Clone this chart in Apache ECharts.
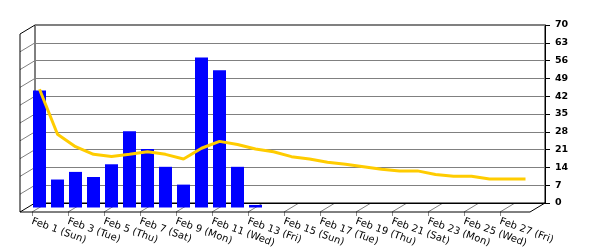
<!DOCTYPE html>
<html><head><meta charset="utf-8">
<script src="https://cdn.jsdelivr.net/npm/echarts@6/dist/echarts.min.js"></script>
<style>html,body{margin:0;padding:0;background:#fff}#c{width:600px;height:250px}</style>
</head><body><div id="c"></div>
<script>
const categories = ['Feb 1 (Sun)','Feb 2 (Mon)','Feb 3 (Tue)','Feb 4 (Wed)','Feb 5 (Thu)','Feb 6 (Fri)','Feb 7 (Sat)',
  'Feb 8 (Sun)','Feb 9 (Mon)','Feb 10 (Tue)','Feb 11 (Wed)','Feb 12 (Thu)','Feb 13 (Fri)','Feb 14 (Sat)',
  'Feb 15 (Sun)','Feb 16 (Mon)','Feb 17 (Tue)','Feb 18 (Wed)','Feb 19 (Thu)','Feb 20 (Fri)','Feb 21 (Sat)',
  'Feb 22 (Sun)','Feb 23 (Mon)','Feb 24 (Tue)','Feb 25 (Wed)','Feb 26 (Thu)','Feb 27 (Fri)','Feb 28 (Sat)'];
const barValues = [46, 11, 14, 12, 17, 30, 23, 16, 9, 59, 54, 16, 1,
  null, null, null, null, null, null, null, null, null, null, null, null, null, null, null];
const lineValues = [46.5, 28.8, 23.9, 20.9, 20.1, 20.9, 21.9, 20.9, 19.1, 23.3, 26, 24.8, 23, 21.9,
  20, 19.1, 17.8, 17, 16, 15, 14.4, 14.4, 13, 12.3, 12.3, 11.2, 11.2, 11.2];
const yMin = 0, yMax = 70, yStep = 7;

// layout (back wall plane); depth offset to front plane
const L = 35, R = 55, T = 25, B = 47, W = 600, H = 250;
const DX = -15, DY = 9;
const CAT_W = 504;

const chart = echarts.init(document.getElementById('c'), null, {renderer: 'canvas'});
const hidden = {show: false};
const yHidden = (gi) => ({type: 'value', gridIndex: gi, min: yMin, max: yMax, interval: yStep, show: false});
const xHidden = (gi) => ({type: 'category', gridIndex: gi, data: categories, show: false});

const midLeft = L + DX / 2 + 3, frontLeft = L + DX + 3;
chart.setOption({
  animation: false,
  backgroundColor: '#fff',
  grid: [
    {left: L, right: R, top: T, bottom: B, show: true, borderColor: '#000', borderWidth: 1, backgroundColor: 'transparent'},
    {left: midLeft, width: CAT_W, top: T + DY / 2, bottom: B - DY / 2},
    {left: frontLeft, width: CAT_W, top: T + DY, bottom: B - DY}
  ],
  xAxis: [
    {type: 'category', gridIndex: 0, data: categories, axisLine: {show: true, lineStyle: {color: '#000'}},
      axisTick: hidden, axisLabel: hidden, splitLine: hidden},
    xHidden(1),
    {type: 'category', gridIndex: 2, data: categories, axisLine: hidden,
      axisTick: {show: true, interval: 1, alignWithLabel: true, length: 4, lineStyle: {color: '#888'}},
      axisLabel: {interval: 1, rotate: -20, margin: 9, fontSize: 10, fontFamily: 'DejaVu Sans', color: '#000'},
      splitLine: hidden}
  ],
  yAxis: [
    {type: 'value', gridIndex: 0, position: 'right', min: yMin, max: yMax, interval: yStep,
      axisLine: {show: true, lineStyle: {color: '#000'}},
      axisTick: {show: true, length: 5, lineStyle: {color: '#000'}},
      axisLabel: {margin: 10, fontSize: 9.5, fontWeight: 'bold', fontFamily: 'DejaVu Sans', color: '#000',
        padding: [3, 0, 0, 0]},
      splitLine: {show: true, lineStyle: {color: '#808080', width: 1}}},
    yHidden(1),
    yHidden(2)
  ],
  series: [
    {type: 'bar', xAxisIndex: 1, yAxisIndex: 1, data: barValues, barWidth: 13,
      itemStyle: {color: '#0000FF'}, z: 3},
    {type: 'line', xAxisIndex: 1, yAxisIndex: 1, data: lineValues, showSymbol: false, symbol: 'none',
      lineStyle: {color: '#FFCC00', width: 3}, z: 4}
  ]
});

function drawFrame() {
  const yBack = v => chart.convertToPixel({yAxisIndex: 0}, v);
  const xRight = W - R;
  const y0 = yBack(yMin), yTop = yBack(yMax);
  const els = [];
  const ln = (x1, y1, x2, y2, color, z) => els.push({type: 'line', silent: true, z: z || 0,
    shape: {x1, y1, x2, y2}, style: {stroke: color, lineWidth: 1}});
  for (let v = yMin; v <= yMax; v += yStep) {
    const y = yBack(v);
    ln(L, y, L + DX, y + DY, (v === yMin || v === yMax) ? '#000' : '#808080');
  }
  ln(L + DX, yTop + DY, L + DX, y0 + DY, '#000');
  // floor
  for (let i = 0; i < categories.length; i += 2) {
    const xf = chart.convertToPixel({xAxisIndex: 2}, i);
    ln(xf, y0 + DY, xf - DX, y0, '#808080');
  }
  ln(L + DX, y0 + DY, xRight + DX, y0 + DY, '#000', 1);
  ln(xRight, y0, xRight + DX, y0 + DY, '#000', 1);
  chart.setOption({graphic: {elements: els}});
}
drawFrame();
</script></body></html>
